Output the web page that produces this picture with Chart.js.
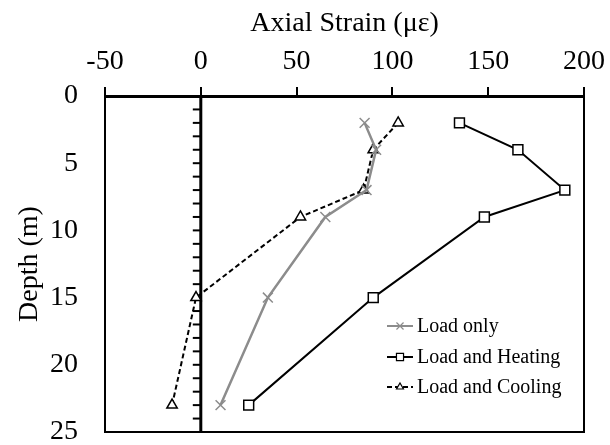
<!DOCTYPE html>
<html>
<head>
<meta charset="utf-8">
<script src="https://cdn.jsdelivr.net/npm/chart.js@4.4.1/dist/chart.umd.min.js"></script>
<style>
  body { margin: 0; background: #fff; }
  #wrap { width: 610px; height: 445px; }
</style>
</head>
<body>
<div id="wrap"><canvas id="strainChart" width="610" height="445"></canvas></div>
<script>
// Data
const depths = [2, 4, 7, 9, 15, 23];
const loadOnly = [85.5, 91.5, 86.5, 65, 35, 10.3];
const loadHeating = [135, 165.5, 190, 148, 90, 25];
const loadCooling = [103, 90, 85, 52, -2.5, -15];
const seriesNames = ["Load only", "Load and Heating", "Load and Cooling"];
const xTicks = [-50, 0, 50, 100, 150, 200];
const yTicks = [0, 5, 10, 15, 20, 25];

const serif = "'Liberation Serif', 'Times New Roman', serif";

function toPoints(vals) {
  return vals.map((v, i) => ({ x: v, y: depths[i] }));
}

// frame, zero line with minor ticks
const framePlugin = {
  id: "frame",
  beforeDatasetsDraw(chart) {
    const { ctx, chartArea: a, scales } = chart;
    const x0 = scales.x.getPixelForValue(0);
    ctx.save();
    ctx.strokeStyle = "#000";
    ctx.lineWidth = 2;
    ctx.beginPath();
    ctx.moveTo(a.right, a.top);
    ctx.lineTo(a.right, a.bottom);
    ctx.lineTo(a.left, a.bottom);
    ctx.stroke();

    // minor ticks every 1 m on the zero line
    for (let d = 1; d < 25; d++) {
      const py = scales.y.getPixelForValue(d);
      ctx.beginPath();
      ctx.moveTo(x0 - 8, py);
      ctx.lineTo(x0, py);
      ctx.stroke();
    }
    ctx.lineWidth = 3;
    ctx.beginPath();
    ctx.moveTo(x0, a.top);
    ctx.lineTo(x0, a.bottom);
    ctx.stroke();
    ctx.restore();
  }
};

// legend drawn in lower right of plot
const legendPlugin = {
  id: "boxLegend",
  afterDraw(chart) {
    const { ctx, chartArea: a } = chart;
    const lx = a.right - 197;
    const rows = [a.bottom - 106, a.bottom - 75, a.bottom - 45];
    ctx.save();
    chart.data.datasets.forEach((ds, i) => {
      const y = rows[i];
      ctx.strokeStyle = ds.borderColor;
      ctx.lineWidth = 2;
      ctx.setLineDash(ds.borderDash || []);
      ctx.beginPath();
      ctx.moveTo(lx, y);
      ctx.lineTo(lx + 26, y);
      ctx.stroke();
      ctx.setLineDash([]);
      ctx.fillStyle = "#fff";
      ctx.lineWidth = 1.2;
      Chart.helpers.drawPoint(ctx, { pointStyle: ds.pointStyle, radius: ds.pointRadius - 2, rotation: 0, borderWidth: 1.2 }, lx + 13, y);
      ctx.fillStyle = "#000";
      ctx.font = "20px " + serif;
      ctx.textBaseline = "middle";
      ctx.textAlign = "left";
      ctx.fillText(ds.label, lx + 30, y + 1);
    });
    ctx.restore();
  }
};

new Chart(document.getElementById("strainChart"), {
  type: "scatter",
  data: {
    datasets: [
      {
        label: seriesNames[0],
        data: toPoints(loadOnly),
        showLine: true,
        borderColor: "#8c8c8c",
        backgroundColor: "#8c8c8c",
        borderWidth: 2.5,
        pointStyle: "crossRot",
        pointRadius: 7,
        pointBorderWidth: 1.5
      },
      {
        label: seriesNames[1],
        data: toPoints(loadHeating),
        showLine: true,
        borderColor: "#000",
        backgroundColor: "#fff",
        borderWidth: 2,
        pointStyle: "rect",
        pointRadius: 7,
        pointBorderWidth: 1.5
      },
      {
        label: seriesNames[2],
        data: toPoints(loadCooling),
        showLine: true,
        borderColor: "#000",
        backgroundColor: "#fff",
        borderWidth: 2,
        borderDash: [5, 3],
        pointStyle: "triangle",
        pointRadius: 6,
        pointBorderWidth: 1.5
      }
    ]
  },
  options: {
    responsive: false,
    animation: false,
    layout: { padding: { left: 9, top: 3, right: 26, bottom: 13 } },
    plugins: { legend: { display: false }, tooltip: { enabled: false } },
    scales: {
      x: {
        position: "top",
        min: -50,
        max: 200,
        afterBuildTicks(scale) { scale.ticks = xTicks.map(v => ({ value: v })); },
        afterFit(scale) { scale.height = 93; },
        ticks: { color: "#000", padding: 0, font: { family: serif, size: 28, lineHeight: 1.84 } },
        grid: { drawOnChartArea: false, drawTicks: true, tickLength: 9, color: "#000", lineWidth: 2 },
        border: { display: true, color: "#000", width: 3 },
        title: { display: true, text: "Axial Strain (με)", color: "#000", font: { family: serif, size: 28 } }
      },
      y: {
        reverse: true,
        min: 0,
        max: 25,
        afterBuildTicks(scale) { scale.ticks = yTicks.map(v => ({ value: v })); },
        afterFit(scale) { scale.width = 96; },
        ticks: { color: "#000", padding: 0, font: { family: serif, size: 28, lineHeight: 0.9 } },
        grid: { display: false, drawTicks: true, tickLength: 27 },
        border: { display: true, color: "#000", width: 2 },
        title: { display: true, text: "Depth (m)", color: "#000", font: { family: serif, size: 28 } }
      }
    }
  },
  plugins: [framePlugin, legendPlugin]
});
</script>
</body>
</html>
